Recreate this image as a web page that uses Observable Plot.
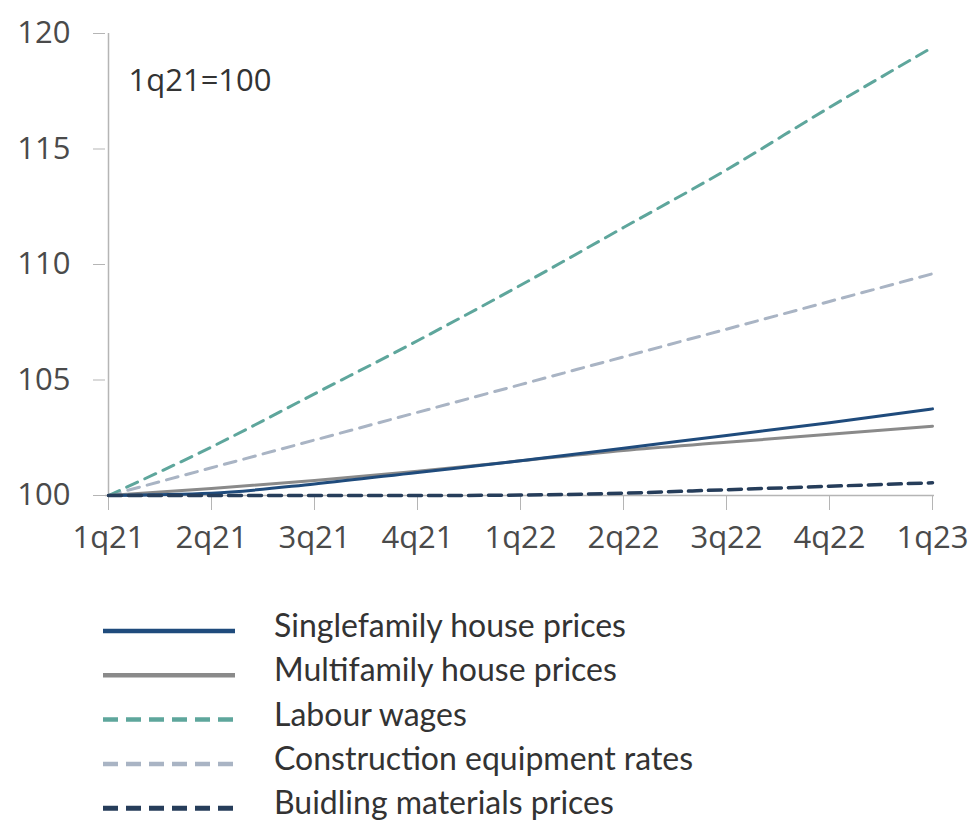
<!DOCTYPE html>
<html>
<head>
<meta charset="utf-8">
<script src="https://cdn.jsdelivr.net/npm/d3@7"></script>
<script src="https://cdn.jsdelivr.net/npm/@observablehq/plot@0.6"></script>
<style>
  html, body { margin: 0; padding: 0; background: #fff; overflow: hidden; }
  #chart svg, #legend svg { display: block; }
</style>
</head>
<body>
<div id="chart"></div>
<div id="legend"></div>
<script>
const quarters = ["1q21","2q21","3q21","4q21","1q22","2q22","3q22","4q22","1q23"];
const singlefamily = [100, 100.1, 100.5, 101.0, 101.5, 102.05, 102.6, 103.15, 103.75];
const multifamily  = [100, 100.3, 100.65, 101.05, 101.5, 101.95, 102.3, 102.65, 103.0];
const labour       = [100, 102.1, 104.4, 106.7, 109.1, 111.6, 114.1, 116.8, 119.4];
const construction = [100, 101.2, 102.4, 103.6, 104.8, 106.0, 107.2, 108.4, 109.6];
const building     = [100, 100, 100, 100, 100.02, 100.1, 100.25, 100.4, 100.55];
const yTicks = [100, 105, 110, 115, 120];
const seriesNames = ["Singlefamily house prices", "Multifamily house prices", "Labour wages", "Construction equipment rates", "Buidling materials prices"];
const note = ["1q21=100"];

const seriesValues = [singlefamily, multifamily, labour, construction, building];
const styles = [
  {stroke: "#1f4b7c", width: 3, dash: null, lw: 4.5, ldash: null},
  {stroke: "#8a8a8a", width: 3, dash: null, lw: 4.5, ldash: null},
  {stroke: "#5ea69c", width: 3, dash: "12,8", lw: 4.5, ldash: "15,8"},
  {stroke: "#a9b4c4", width: 3, dash: "12,8", lw: 4.5, ldash: "15,8"},
  {stroke: "#263d5a", width: 3.5, dash: "13,7", lw: 5, ldash: "15,8"}
];
const table = seriesValues.map((vals) => quarters.map((q, i) => ({q, v: vals[i]})));

const axisFont = "'Open Sans', sans-serif";
const lineOrder = [3, 2, 1, 0, 4];

const plot = Plot.plot({
  width: 977,
  height: 570,
  marginLeft: 105,
  marginRight: 43,
  marginTop: 33,
  marginBottom: 75,
  style: {fontFamily: axisFont, fontSize: "31px", color: "#4a4a4a", background: "#fff"},
  x: {type: "point", domain: quarters, padding: 0},
  y: {domain: [100, 120]},
  marks: [
    Plot.ruleY([100], {stroke: "#b5b5b5", strokeWidth: 1.5}),
    Plot.ruleX([quarters[0]], {y1: 100, y2: 120, stroke: "#b5b5b5", strokeWidth: 1.5}),
    Plot.axisY({ticks: yTicks, tickSize: 12, tickPadding: 23, stroke: "#b5b5b5", fill: "#4a4a4a", label: null, fontSize: 31}),
    Plot.axisX({tickSize: 15, tickPadding: 15, stroke: "#b5b5b5", fill: "#4a4a4a", label: null, fontSize: 31}),
    ...lineOrder.map(k => Plot.line(table[k], {
      x: "q", y: "v", stroke: styles[k].stroke, strokeWidth: styles[k].width,
      strokeDasharray: styles[k].dash || undefined, curve: "monotone-x"
    })),
    Plot.text(note, {frameAnchor: "top-left", text: d => d, dx: 23, dy: 35, fontSize: 31, fill: "#333", textAnchor: "start"})
  ]
});
document.getElementById("chart").appendChild(plot);

// Legend below the plot
const lg = d3.select("#legend").append("svg").attr("width", 977).attr("height", 250);
seriesNames.forEach((name, k) => {
  const s = styles[k];
  const cy = 61 + 44.3 * k;
  lg.append("line")
    .attr("x1", 103).attr("x2", 235).attr("y1", cy).attr("y2", cy)
    .attr("stroke", s.stroke).attr("stroke-width", s.lw)
    .attr("stroke-dasharray", s.ldash);
  lg.append("text")
    .attr("x", 274).attr("y", cy + 6)
    .attr("font-family", "Lato, 'Open Sans', sans-serif")
    .attr("font-size", 32).attr("fill", "#333")
    .text(name);
});
</script>
</body>
</html>
